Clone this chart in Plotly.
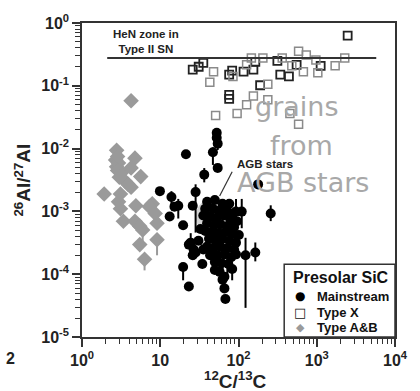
import plotly.graph_objects as go

# ---------------- data ----------------
# Mainstream grains (12C/13C, 26Al/27Al) with optional error bar ends
ms_x = [52.7, 52.7, 54.2, 47.1, 21.3, 54.2, 36.5, 178, 9.9, 28.3, 13.9, 17.0, 26.0, 258, 13.2,
        19.6, 15.2, 24.5, 26.7, 23.2, 23.2, 19.6, 34.5, 123, 164, 92.9, 43.3, 49.8, 62.5, 66.1,
        68.0, 83.0, 26.0, 110, 92.9,
        39.7, 49.8, 62.5, 76.2, 37.5, 47.1, 57.4, 70.0, 83.0, 35.5, 43.3, 52.7, 64.3, 78.4, 95.6,
        39.7, 48.4, 59.0, 72.0, 87.8, 37.5, 45.8, 55.8, 68.0, 83.0, 101, 42.0, 51.2, 62.5, 76.2,
        92.9, 39.7, 48.4, 59.0, 72.0, 87.8, 44.5, 54.2, 66.1, 80.7, 49.8, 60.8, 74.1, 32.6, 30.8,
        28.3, 35.5, 57.4, 66.1]
ms_y = [0.0178, 0.0149, 0.0120, 0.00873, 0.00813, 0.00493, 0.00385, 0.00269, 0.00210, 0.00203,
        0.00170, 0.00123, 0.00123, 0.000925, 0.000832, 0.000603, 0.00119, 0.000318, 0.000247,
        0.000296, 0.0000638, 0.000130, 0.000145, 0.000200, 0.000222, 0.000207, 0.000200,
        0.000117, 0.0000819, 0.0000594, 0.0000402, 0.000121, 0.000200, 0.000993, 0.000993,
        0.00142, 0.00152, 0.00132, 0.00132, 0.00110, 0.00110, 0.00103, 0.00107, 0.000925,
        0.000861, 0.000832, 0.000802, 0.000861, 0.000747, 0.000695, 0.000647, 0.000603,
        0.000625, 0.000582, 0.000561, 0.000487, 0.000470, 0.000453, 0.000470, 0.000437,
        0.000422, 0.000366, 0.000353, 0.000366, 0.000341, 0.000318, 0.000275, 0.000266,
        0.000275, 0.000256, 0.000247, 0.000222, 0.000200, 0.000207, 0.000186, 0.000156,
        0.000150, 0.000145, 0.000523, 0.000341, 0.000222, 0.000247, 0.000109, 0.0000912]
ms_hi = [None, None, None, 0.0105, None, None, 0.0049, 0.0031, None, 0.0027, 0.0021, 0.00158,
         None, 0.00125, None, None, None, 0.00045, 0.00032, None, None, None, None, 0.00038,
         0.00032, None, None, None, None, None, None, None, None, 0.00158, 0.00158,
         None, None, None, None, None, 0.0016, None, None, None, None, None, None, None, None,
         None, None, None, None, None, None, None, None, 0.0007, None, 0.0008, None, None, None,
         None, None, None, None, None, None, None, None, None, None, None, None, None, None,
         None, None, None, None, None, None, None]
ms_lo = [None, None, 0.0095, 0.0055, None, None, 0.0029, 0.0023, None, 0.00046, 0.0011, 0.00077,
         None, 0.0007, None, None, None, 0.00022, 0.00017, None, None, 0.00008, None, 0.0000291,
         0.00016, None, None, None, None, None, None, 0.00008, None, 0.00054, 0.00032,
         None, None, None, None, None, 0.0006, None, None, None, None, None, None, None, None,
         None, None, None, None, None, None, None, None, 0.00015, None, 0.00025, None, None,
         None, 0.00012, None, None, None, None, None, 0.00009, None, None, None, None, None,
         None, None, None, None, None, None, None, None, None]

# Type X grains (dark outlines and light outlines)
xd_x = [26, 31, 35.5, 76, 83, 116, 155, 164, 314, 342, 441, 553, 76, 76, 189, 1122, 2483]
xd_y = [0.181, 0.201, 0.232, 0.151, 0.174, 0.168, 0.181, 0.240, 0.249, 0.151, 0.141, 0.216,
        0.0715, 0.062, 0.102, 0.208, 0.629]
xl_x = [48, 43, 85, 127, 146, 205, 362, 480, 586, 237, 155, 127, 96, 237, 51, 454, 586, 675,
        735, 975, 1032, 1718, 2280]
xl_y = [0.168, 0.114, 0.141, 0.216, 0.277, 0.277, 0.277, 0.208, 0.356, 0.106, 0.069, 0.050,
        0.0363, 0.0598, 0.0338, 0.0363, 0.0245, 0.168, 0.308, 0.258, 0.162, 0.208, 0.277]

# Type A&B grains
ab_x = [2.77, 2.69, 2.77, 2.93, 4.75, 4.24, 5.63, 3.19, 3.58, 3.89, 4.24, 1.92, 3.10, 2.93,
        3.10, 4.88, 7.90, 7.26, 8.61, 9.10, 3.38, 4.75, 5.47, 5.96, 9.10, 5.47, 6.30, 4.24,
        2.85, 2.85, 3.0]
ab_y = [0.00938, 0.00656, 0.00512, 0.0059, 0.00705, 0.00493, 0.00358, 0.00413, 0.0030,
        0.00269, 0.00242, 0.00189, 0.00189, 0.00142, 0.00110, 0.00123, 0.00132, 0.00119,
        0.000925, 0.000647, 0.000695, 0.000695, 0.000582, 0.000505, 0.000353, 0.000296,
        0.000173, 0.0578, 0.0075, 0.0045, 0.0035]
ab_lo = [None] * 23 + [0.00027, 0.0002, None, 0.000115, None, None, None, None]

# HeN zone line (y level, x extent) and AGB region
hen_y = 0.277
hen_x = [2.1, 5760]
agb_ellipse_x = [28.3, 87.7]
agb_ellipse_y = [0.000423, 0.00164]
agb_pointer_x = [83, 57.4]
agb_pointer_y = [0.00428, 0.00176]

x_tickvals = [1, 10, 100, 1000, 10000]
x_ticktext = ["10<sup>0</sup>", "10", "10<sup>2</sup>", "10<sup>3</sup>", "10<sup>4</sup>"]
y_tickvals = [1e-5, 1e-4, 1e-3, 1e-2, 1e-1, 1]
y_ticktext = ["10<sup>-5</sup>", "10<sup>-4</sup>", "10<sup>-3</sup>", "10<sup>-2</sup>",
              "10<sup>-1</sup>", "10<sup>0</sup>"]

legend_title = "Presolar SiC"
legend_names = ["Mainstream", "Type X", "Type A&B"]
legend_symbols = ["●", "□", "◆"]


def bars(y, hi, lo):
    plus = [(h - v) if h is not None else 0 for v, h in zip(y, hi)]
    minus = [(v - l) if l is not None else 0 for v, l in zip(y, lo)]
    return plus, minus


ms_plus, ms_minus = bars(ms_y, ms_hi, ms_lo)
ab_plus, ab_minus = bars(ab_y, [None] * len(ab_y), ab_lo)

x_minor = [m * 10 ** d for d in range(0, 4) for m in range(2, 10)]
y_minor = [m * 10.0 ** d for d in range(-5, 0) for m in range(2, 10)]

FONT = "Liberation Sans, Arial, sans-serif"
fig = go.Figure()

fig.add_trace(go.Scatter(
    x=ms_x, y=ms_y, mode="markers", name="Mainstream",
    marker=dict(symbol="circle", size=10, color="black"),
    error_y=dict(type="data", symmetric=False, array=ms_plus, arrayminus=ms_minus,
                 color="black", thickness=2, width=0)))
fig.add_trace(go.Scatter(
    x=xd_x, y=xd_y, mode="markers", name="Type X",
    marker=dict(symbol="square-open", size=8, color="#222", line=dict(width=1.8))))
fig.add_trace(go.Scatter(
    x=xl_x, y=xl_y, mode="markers", name="Type X light",
    marker=dict(symbol="square-open", size=8, color="#8a8a8a", line=dict(width=1.5))))
fig.add_trace(go.Scatter(
    x=ab_x, y=ab_y, mode="markers", name="Type A&B",
    marker=dict(symbol="diamond", size=12, color="#9a9a9a"),
    error_y=dict(type="data", symmetric=False, array=ab_plus, arrayminus=ab_minus,
                 color="#9a9a9a", thickness=2, width=0)))

shapes = [
    dict(type="circle", xref="x", yref="y", x0=agb_ellipse_x[0], x1=agb_ellipse_x[1],
         y0=agb_ellipse_y[0], y1=agb_ellipse_y[1], fillcolor="#d4d4d4",
         line=dict(width=0), layer="below"),
    dict(type="line", xref="x", yref="y", x0=hen_x[0], x1=hen_x[1], y0=hen_y, y1=hen_y,
         line=dict(color="#333", width=2)),
    dict(type="line", xref="x", yref="y", x0=agb_pointer_x[0], x1=agb_pointer_x[1],
         y0=agb_pointer_y[0], y1=agb_pointer_y[1], line=dict(color="#333", width=1.2)),
    # legend box
    dict(type="rect", xref="paper", yref="paper", x0=0.646, x1=1.0, y0=0.0, y1=0.232,
         fillcolor="white", line=dict(color="#333", width=1.5), layer="above"),
]

annotations = [
    dict(text="<b>HeN zone in<br>Type II SN</b>", x=0.812, y=-0.294, xref="x", yref="y",
         showarrow=False, font=dict(family=FONT, size=11.5, color="#222")),
    dict(text="<b>AGB stars</b>", x=2.337, y=-2.245, xref="x", yref="y",
         showarrow=False, font=dict(family=FONT, size=11.5, color="#222")),
    dict(text="grains", x=2.743, y=-1.331, xref="x", yref="y", showarrow=False,
         font=dict(family="DejaVu Sans", size=27, color="#a8a8a8")),
    dict(text="from", x=2.804, y=-1.950, xref="x", yref="y", showarrow=False,
         font=dict(family="DejaVu Sans", size=27, color="#a8a8a8")),
    dict(text="AGB stars", x=2.829, y=-2.539, xref="x", yref="y", showarrow=False,
         font=dict(family="DejaVu Sans", size=27, color="#a8a8a8")),
    dict(text="<b><sup>26</sup>Al/<sup>27</sup>Al</b>", x=-0.19, y=0.5, xref="paper",
         yref="paper", xanchor="center", yanchor="middle", textangle=-90, showarrow=False,
         font=dict(family=FONT, size=19, color="#222")),
    dict(text="<b><sup>12</sup>C/<sup>13</sup>C</b>", x=0.49, y=-0.136, xref="paper",
         yref="paper", xanchor="center", yanchor="middle", showarrow=False,
         font=dict(family=FONT, size=19, color="#222")),
    dict(text="<b>2</b>", x=-0.23, y=-0.07, xref="paper", yref="paper", xanchor="center",
         yanchor="middle", showarrow=False, font=dict(family=FONT, size=16, color="#222")),
    # legend content
    dict(text="<b>" + legend_title + "</b>", x=0.826, y=0.189, xref="paper", yref="paper",
         xanchor="center", yanchor="middle", showarrow=False,
         font=dict(family=FONT, size=16, color="#111")),
]

legend_rows_y = [0.130, 0.078, 0.030]
legend_sym_style = [dict(size=12, color="black"), dict(size=13, color="#111"),
                    dict(size=11, color="#9a9a9a")]
for name, sym, yy, st in zip(legend_names, legend_symbols, legend_rows_y, legend_sym_style):
    annotations.append(dict(text=sym, x=0.698, y=yy, xref="paper", yref="paper",
                            xanchor="center", yanchor="middle", showarrow=False,
                            font=dict(family="DejaVu Sans", **st)))
    annotations.append(dict(text="<b>" + name + "</b>", x=0.745, y=yy, xref="paper",
                            yref="paper", xanchor="left", yanchor="middle", showarrow=False,
                            font=dict(family=FONT, size=13, color="#111")))

axis_common = dict(type="log", showgrid=False, zeroline=False, showline=True,
                   linecolor="#333", linewidth=1.5, mirror=True, ticks="outside",
                   ticklen=8, tickwidth=1.5, tickcolor="#333",
                   tickfont=dict(family=FONT, size=16, color="#222", weight="bold"))

fig.update_layout(
    width=420, height=391,
    margin=dict(l=82, r=13, t=14, b=54),
    paper_bgcolor="white", plot_bgcolor="white",
    shapes=shapes, annotations=annotations,
    xaxis=dict(range=[0, 4], tickmode="array", tickvals=x_tickvals, ticktext=x_ticktext,
               minor=dict(tickmode="array", tickvals=x_minor, ticks="outside", ticklen=5,
                          tickwidth=1.2, tickcolor="#333"),
               **axis_common),
    yaxis=dict(range=[-5, 0], tickmode="array", tickvals=y_tickvals, ticktext=y_ticktext,
               minor=dict(tickmode="array", tickvals=y_minor, ticks="outside", ticklen=5,
                          tickwidth=1.2, tickcolor="#333"),
               **axis_common),
    showlegend=False,
)

fig.write_html("out.html")
